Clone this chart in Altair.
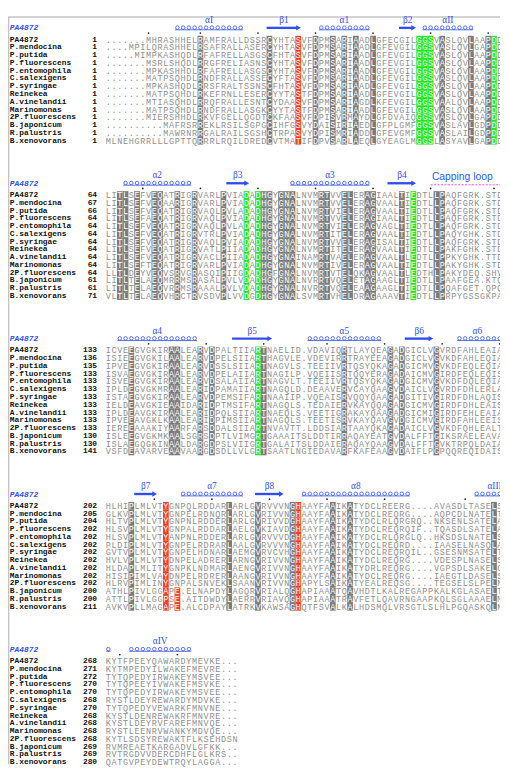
import altair as alt
import pandas as pd

# ---------------- data ----------------
NAMES = ["PA4872", "P.mendocina", "P.putida", "P.fluorescens", "P.entomophila",
         "C.salexigens", "P.syringae", "Reinekea", "A.vinelandii", "Marinomonas",
         "2P.fluorescens", "B.japonicum", "R.palustris", "B.xenovorans"]

STARTS = [
    [1] * 14,
    [64, 67, 66, 64, 64, 64, 64, 64, 64, 64, 64, 61, 61, 71],
    [133, 136, 135, 133, 133, 133, 133, 133, 133, 133, 133, 130, 130, 141],
    [202, 205, 204, 202, 202, 202, 202, 202, 202, 202, 202, 200, 200, 211],
    [268, 271, 272, 270, 270, 268, 270, 268, 268, 268, 268, 269, 269, 280],
]

BLOCK1 = [
    ".......MHRASHHEL" + "RAMFRALLDSSR" + "CYHTASVFDPMSARIAADLGFECGILGGSVASLQVLAAPDD",
    "....MPILQRASHHEL" + "RSAFRALLASER" + "CYHTASVFDPMSARIAADLGFEVGILGGSVASLQVLGAPDD",
    ".....MIMPKASHQDL" + "RFAFRELLASGS" + "CFHTASVFDPMSARIAADLGFEVGILGGSVASLQVLAAPDD",
    ".......MSRLSHQDL" + "RRGFRELIASNS" + "CYHTASVFDPMSARIAADLGFEVGILGGSVASLQVLAAPDD",
    ".......MPKASHHDL" + "RFAFRELLASGS" + "CYHTASVFDPMSARIAADLGFEVGILGGSVASLQVLAAPDD",
    ".......MATPSQHDL" + "RNDFRALLASSE" + "CYFTASVFDPMSARIAADLGFEVGILGGSVASLQVLAAPDD",
    ".......MPKASHQDL" + "RRSFRALTSSNS" + "CFHTASVFDPMSARIAADLGFEVGILGGSVASLQVLAAPDD",
    ".......MATPSQHDL" + "RKEFRNLLESER" + "CYYTASTFDPMSARIAADLGFEVGILGGSVASLQVLAAPDD",
    ".......MTIASQHDL" + "RRQFRALLESNT" + "CYDAASVFDPMSARIAGDLKFEVGILGGSVAALQVLAAPDD",
    ".......MATPSQHDL" + "RNDFRALLASGK" + "CYYTASTFDPMSARIAADLGFEVGILGGSVASLQVLAAPDD",
    ".......MIERSHHDL" + "RKVFGELLQGDT" + "CKFAASVFDPISVRMAYDLGFDVAIQGGSVASLQVLGAPDD",
    "..........MAFRSR" + "REKLRSILSGPG" + "CIHFGSVYDAISIRIAEDLGFPLGMFGGSVASLAVLGDPDD",
    "..........MAWRNR" + "RGALRAILSGSH" + "CTRPASVYDPISMRIADDLGFEVGMFGGSVASLAILGDPDD",
    "MLNEHGRRLLLGPTTQ" + "RRRLRQILDRED" + "CVTMATIFDPVSARLAEQLGYEAGLMGGSLASYAVLGAPDD",
]

BLOCK2 = [
    "LITLSEFVEQATRIGRVARLPVIA" + "DADHGYGNALNVMRTVVELERAGIAALTIEDTLLPAQFGRK.STD",
    "LITLSEFVEQAARIGRVARLPVIA" + "DADHGYGNALNVMRTVVELERAGVAALTIEDTLLPAQFGRK.STD",
    "LITLSEFVEQATRIGRVAQLPVLA" + "DADHGYGNALNVMRTVIELERAGVAALTIEDTLLPAQFGRK.STD",
    "LITLSEFAEQATRIGRVAQLPVIA" + "DADHGYGNALNVMRTVVELERAGIAALTIEDTLLPAQFGRK.STD",
    "LITLSEFVEQATRIGRVAQLPVLA" + "DADHGYGNALNVMRTVIELERAGVAGLTIEDTLLPAQFGRK.STD",
    "LITLSEFVEQATRIGRVTRLPVIA" + "DADHGYGNALNVMRTITELERAGVAALTIEDTLLPAQYGHK.STD",
    "LITLSEFVEQATRIGRVAQLPVIA" + "DADHGYGNALNVMRTVVELERAGISALTIEDTLLPAQFGRK.STD",
    "LITLSEFVEQATRIGRVATLPIIA" + "DADHGYGNALNVMRTITELERAGVAALTIEDTLLPAKFGHK.STD",
    "LITLSEFVEQATRIGRVACLPIIA" + "DADHGYGNAINAMRTVAELERAGVAALTLEDTLLPPKYGHK.TTD",
    "LITLSEFTEQATRIGRVARLPVIA" + "DADHGYGNALNVMRTIVELERAGVAALTIEDTLLPAKYGHK.STD",
    "LLTLDEYVEQVSRVGRASQIPIIG" + "DADHGFGNALNVMRTVTELQKAGVAALTLEDTHLPAKYDEQ.SHV",
    "LITLTELAEQMRRMSRASALPVLV" + "DADHGYGNALNVRRTVQELETAGAAGLTIEDTLLPAAFGEA.KTQ",
    "LITLTELAEQVRRMSRAAALPVLV" + "DADHGYGNALNVRRTVQELEAAGAAGLTIEDTLLPQAFGET.QPQ",
    "VLTLTELAEQVHRCTRVSDVPLVV" + "DGDHGYGNALSVMRTVHELDRAGAAAVTIEDTLLPRPYGSSGKPA",
]

BLOCK3 = [
    "ICVEEGVGKIRAALEARVDPALTI" + "IARTNAELID.VDAVIQRTLAYQEAGADGICLVGVRDFAHLEAIA",
    "ISIEEGVGKILAALEARVDPELSI" + "IARTHAGVLE.VDEVIRRTRAYEEAGADGICLVGVKDFAHLEQIA",
    "IPVEEGVGKIRAALEARVDSSLSI" + "IARTNAGVLS.TEEIIVRTQSYQKAGADGICMVGVKDFEQLEQIA",
    "ISVAEGVGKIRAALEARVDPELAI" + "IARTNAGILP.VQEIISRTQQYERAGADAICMVGIRDFEQLEQIS",
    "ISVEEGVGKIRAALEARVDSALAI" + "IARTNAGVLT.TEEIIVRTQSYQKAGADGICMVGVKDFDQLEQIA",
    "IPLDEGVGKMRAALEARIDPAMAI" + "IARTNAGQLD.DEAAVERVCAYQAAGVDAICLVGVRDFDHLERLA",
    "ISTAEGVGKIRAALEARVDPEMSI" + "FARTNAAIIP.VQEAISRVQQYQAAGADGITIVGIRDFDHLAQIS",
    "IELDEAVGKIEAAIDARIDPTMSI" + "FARTNAGQLS.TEDAIERVKAYQQAGADGICMVGIRDFDHLEAIS",
    "IPLDEAVGKIRAALEARIDPQLSI" + "IARTNAEQLS.VEETIGRAKAYQAAGADGICMIGIRDFEHLEAIA",
    "IPVEEAVGKLKAALEARIDPIMSI" + "IARTNAGQLS.TEETISRVKAYQAVGVDGICMVGIRDFAHLEEIS",
    "IEREEAAAKIYAARFARSDDALSI" + "IARTNVAVTT.LDDSIARTAAYQKAGADAICLVGVKDFQHLEALT",
    "ISLEEGVGKMKAALSGRSDPTLVI" + "MGRTGAAAITSLDDTIRRAQAYEATGVDALFFTGIKSRAELEAVA",
    "ISLAEGQGKINAALDARGDPSLVI" + "IGRTGALAITSLDDAIERAQAYQAAGVDALFFTGVKTRPQLDAIA",
    "VSFDEAVARVEAAVAARGDSDLLV" + "LGRTSAATLNGIEDAVARFKAFEAAGVDAIFLPGPQQREQIDAIS",
]

BLOCK4 = [
    "HLHIPLMLVTYGNPQLRDDARLAR" + "LGVRVVVNGHAAYFAAIKATYDCLREERG....AVASDLTASELS",
    "GLKVPLMLVTYGNPELRDNQRLAR" + "LGVRIVVNGHAAYFAAIKATYDCLREQRG....AQPCDLNATELT",
    "HLTVPLMLVTYGNPNLRDDERLAR" + "LGVRIVVDGHAAYFAAIKATYDCLRLQRGRQ..NKSENLSATELA",
    "HLSVPLMLVTYGNPALRDDARLAE" + "LGVKIAVDGHAAYFAAIKATYDCLREQRQIF..TQASDLSATELA",
    "HLSVPLMLVTYANPNLRDDERLAR" + "LGVRVVVDGHAAYFAAIKATYDCLRLQRGLQ..HKSDSLNATELS",
    "PLDIPLMLVTYGNPELRDRARLAA" + "LGVRVVVNGHAAYFAAIKATYDCLREQRD....IAASELNASQLA",
    "GVTVPLMLVTYGNPELHDNARLAE" + "MGVRVCVHGHAAYFAAIKATYDCLREQRQIL..GSESNMSATELT",
    "HVLVPLMLVTYDNPELADRERLAR" + "NGVRIVVNGHAAYFAAIKATYDCLREQRG....VDESPLNASELS",
    "HLDAPLMLITYGNPKLNDMARLAE" + "NGVRIVVNGHAAYFAAIKATYDRLREQRG....VGPSDLSAKELG",
    "HISIPIMLVAYDNPELRDRERLAA" + "NGVRIVVNGHAAYFAAIKATYDCLREQRG....IAEGTLDASELS",
    "HLRVPIMLINYGNPALSNVEKLSA" + "ANVRIVVNGHAPYLSAIKATYEALREQSG....TEGSELSLPELN",
    "ATHLPIVLGGAPE.ELNAPDYLAG" + "QRVRIALQGHAPIAAATQAVHDTLKALREGAPPKALKGLASAELT",
    "ATTLPIVLGGPSE.AITDWDYLAE" + "RRVRIAVQGHAPIAAATRAVFETLQAVRNGAAPKQLSGLAAAELM",
    "AVKVPLLMAGAPE.ALCDPAYLAT" + "RKVKAWSAGHQTFSVALKALHDSMQLVRSGTLSLHLPGQASKQLN",
]

BLOCK5 = [
    "KYTFPEEYQAWARDYMEVKE...",
    "KYTMPEDYILWAKEFMEVRE...",
    "TYTQPEDYIRWAKEYMSVEE...",
    "TYTQPEEYIVWAKEFMSVKE...",
    "TYTQPEDYIRWAKEYMSVEE...",
    "RYSTLDEYREWARDYMDVKE...",
    "TYTQPEDYVEWARKFMNVNE...",
    "KYSTLDENREWAKRFMNVRE...",
    "KYSTLDEYRVFAREFMNVQE...",
    "RYSTLEENRVWANKYMDVQE...",
    "KYTLSDSYREWAKTFLKSEHDSN",
    "RVMREAETKARGADVLGFKK...",
    "RVTRGDVVDERCDHFLGLKRS..",
    "QATGVPEYDEWTRQYLAGGA...",
]

BLOCKS = [BLOCK1, BLOCK2, BLOCK3, BLOCK4, BLOCK5]

# boxed columns per block: gray (conserved), red, green
GRAY_COLS = [
    [16, 28, 36, 39, 41, 43, 46, 58, 63, 66],
    [2, 3, 5, 8, 9, 12, 15, 20, 27, 28, 30, 31, 32, 37, 38, 41, 42, 45, 46, 51, 57, 58],
    [4, 11, 12, 16, 18, 27, 41, 49, 51, 57],
    [4, 21, 26, 32, 39, 42, 67],
    [],
]
RED_COLS = [[33], [], [], [10, 33], []]
GREEN_COLS = [[54, 55, 56, 67], [24, 26, 53], [26], [], []]
# partial red boxes: (block, column, first row, last row)
RED_PARTIAL = [(3, 12, 11, 13)]

# secondary structure: (block, kind, first col, end col, label, label col)
SS = [
    (0, "helix", 12, 24, "αI", None),
    (0, "strand", 28, 34, "β1", None),
    (0, "helix", 37, 46, "α1", None),
    (0, "strand", 51, 54, "β2", None),
    (0, "helix", 55, 64, "αII", None),
    (1, "helix", 3, 15, "α2", None),
    (1, "strand", 21, 25, "β3", None),
    (1, "helix", 32, 46, "α3", None),
    (1, "strand", 49, 54, "β4", None),
    (2, "helix", 2, 16, "α4", None),
    (2, "strand", 22, 29, "β5", None),
    (2, "helix", 35, 48, "α5", None),
    (2, "strand", 52, 57, "β6", None),
    (2, "helix", 61, 70, "α6", 64.6),
    (3, "strand", 5, 9, "β7", None),
    (3, "helix", 13, 24, "α7", None),
    (3, "strand", 26, 31, "β8", None),
    (3, "helix", 34, 53, "α8", None),
    (3, "helix", 64, 70, "αIII", 67.6),
    (4, "helix", 0, 1, "", None),
    (4, "helix", 4, 15, "αIV", None),
]
LOOP = (1, 56.5, 70, "Capping loop", 62.0)

# ---------------- layout ----------------
COLW = 5.85          # px per alignment column
ROWH = 7.895         # px per text line
W, H = 500, 762
X0 = -99 / COLW
XDOM = [X0, X0 + W / COLW]
Y0 = -26 / ROWH
YDOM = [Y0, Y0 + H / ROWH]
NCOL = 70
BLOCK_LINES = 20

GRAY, RED, GREEN = "#7b7b7b", "#ff3a1c", "#22e622"
TXT = "#8e8e8e"
BLUE = "#2f4ff5"

xs = alt.Scale(domain=XDOM, nice=False, zero=False)
ys = alt.Scale(domain=YDOM, nice=False, zero=False, reverse=True)
X = lambda f: alt.X(f, type="quantitative", scale=xs, axis=None)
Y = lambda f: alt.Y(f, type="quantitative", scale=ys, axis=None)

seq_rows, box_rows, name_rows, num_rows, head_rows, dot_rows = [], [], [], [], [], []
for b, block in enumerate(BLOCKS):
    base = BLOCK_LINES * b
    hl = {}
    for c in GRAY_COLS[b]:
        for r in range(14):
            hl[(r, c)] = GRAY
    for c in RED_COLS[b]:
        for r in range(14):
            hl[(r, c)] = RED
    for c in GREEN_COLS[b]:
        for r in range(14):
            hl[(r, c)] = GREEN
    for (pb, c, r0, r1) in RED_PARTIAL:
        if pb == b:
            for r in range(r0, r1 + 1):
                hl[(r, c)] = RED
    for r, s in enumerate(block):
        L = base + r
        for c, ch in enumerate(s[:NCOL]):
            col = hl.get((r, c))
            if col and ch != ".":
                box_rows.append(dict(x=c, x2=c + 1, y=L - 0.5, y2=L + 0.5, fill=col))
            seq_rows.append(dict(x=c + 0.5, y=L, ch=ch,
                                 fg="white" if (col and ch != ".") else TXT))
        name_rows.append(dict(x=-16.6, y=L, t=NAMES[r]))
        num_rows.append(dict(x=-1.45, y=L, t=str(STARTS[b][r])))
    head_rows.append(dict(x=-16.6, y=base - 1.45, t="PA4872"))
    # numbering dots above the reference sequence
    res = STARTS[b][0] - 1
    for c, ch in enumerate(block[0][:NCOL]):
        if ch != ".":
            res += 1
            if res % 10 == 0 or res == 1:
                dot_rows.append(dict(x=c + 0.5, y=base - 0.85))

coil_rows, coil_base, arrow_rows, head_tri, lab_rows = [], [], [], [], []
for (b, kind, c0, c1, lab, lx) in SS:
    base = BLOCK_LINES * b
    if kind == "helix":
        for c in range(c0, c1):
            coil_rows.append(dict(x=c + 0.5, y=base - 1.55))
        coil_base.append(dict(x=c0 + 0.1, x2=c1 - 0.1, y=base - 1.27))
    else:
        arrow_rows.append(dict(x=c0, x2=c1 - 0.7, y=base - 1.52))
        head_tri.append(dict(x=c1 - 0.45, y=base - 1.52))
    if lab:
        lab_rows.append(dict(x=lx if lx is not None else (c0 + c1) / 2,
                             y=base - 2.55, t=lab))

lb, l0, l1, ltxt, lx = LOOP
loop_line = pd.DataFrame([dict(x=l0, x2=l1, y=BLOCK_LINES * lb - 1.33)])
loop_txt = pd.DataFrame([dict(x=lx, y=BLOCK_LINES * lb - 2.3, t=ltxt)])

border = pd.DataFrame([
    dict(x=X0 + 0.02, x2=XDOM[1], y=-2.91, y2=-2.91),
    dict(x=-16.83, x2=-16.83, y=-2.91, y2=YDOM[1]),
])

# ---------------- layers ----------------
boxes = alt.Chart(pd.DataFrame(box_rows)).mark_rect(strokeWidth=0).encode(
    x=X("x"), x2="x2", y=Y("y"), y2="y2", color=alt.Color("fill:N", scale=None))

seq = alt.Chart(pd.DataFrame(seq_rows)).mark_text(
    font="Liberation Mono", fontSize=8.6, baseline="middle", align="center").encode(
    x=X("x"), y=Y("y"), text="ch:N", color=alt.Color("fg:N", scale=None))

names = alt.Chart(pd.DataFrame(name_rows)).mark_text(
    font="Liberation Mono", fontSize=8, fontWeight="bold", baseline="middle",
    align="left", color="#111111").encode(x=X("x"), y=Y("y"), text="t:N")

nums = alt.Chart(pd.DataFrame(num_rows)).mark_text(
    font="Liberation Mono", fontSize=8, fontWeight="bold", baseline="middle",
    align="right", color="#111111").encode(x=X("x"), y=Y("y"), text="t:N")

heads = alt.Chart(pd.DataFrame(head_rows)).mark_text(
    font="Liberation Mono", fontSize=8, fontWeight="bold", fontStyle="italic",
    baseline="middle", align="left", color=BLUE).encode(x=X("x"), y=Y("y"), text="t:N")

dots = alt.Chart(pd.DataFrame(dot_rows)).mark_point(
    shape="circle", filled=True, size=3, color="#222222", opacity=1).encode(
    x=X("x"), y=Y("y"))

coils = alt.Chart(pd.DataFrame(coil_rows)).mark_point(
    shape="circle", filled=False, size=13, strokeWidth=0.8, color=BLUE, opacity=1).encode(
    x=X("x"), y=Y("y"))

coil_lines = alt.Chart(pd.DataFrame(coil_base)).mark_rule(
    strokeWidth=0.8, color=BLUE).encode(x=X("x"), x2="x2", y=Y("y"))

shafts = alt.Chart(pd.DataFrame(arrow_rows)).mark_rule(
    strokeWidth=2.4, color=BLUE).encode(x=X("x"), x2="x2", y=Y("y"))

tips = alt.Chart(pd.DataFrame(head_tri)).mark_point(
    shape="triangle-right", filled=True, size=30, color=BLUE, opacity=1).encode(
    x=X("x"), y=Y("y"))

labels = alt.Chart(pd.DataFrame(lab_rows)).mark_text(
    font="Liberation Serif", fontSize=9.5, baseline="middle", align="center",
    color=BLUE).encode(x=X("x"), y=Y("y"), text="t:N")

loopl = alt.Chart(loop_line).mark_rule(
    strokeWidth=1.2, color="#ff4dff", strokeDash=[2, 1.5]).encode(
    x=X("x"), x2="x2", y=Y("y"))

loopt = alt.Chart(loop_txt).mark_text(
    font="Liberation Sans", fontSize=10.5, baseline="middle", align="center",
    color="#2a5cff").encode(x=X("x"), y=Y("y"), text="t:N")

frame = alt.Chart(border).mark_rule(strokeWidth=1.6, color="#c4c4c4").encode(
    x=X("x"), x2="x2", y=Y("y"), y2="y2")

chart = alt.layer(
    frame, boxes, seq, names, nums, heads, dots, coils, coil_lines,
    shafts, tips, labels, loopl, loopt
).properties(
    width=W, height=H, padding=0,
    autosize=alt.AutoSizeParams(type="none"),
    background="white",
).configure_view(stroke=None)

chart.save("out.html", embed_options={"renderer": "svg", "actions": False})
